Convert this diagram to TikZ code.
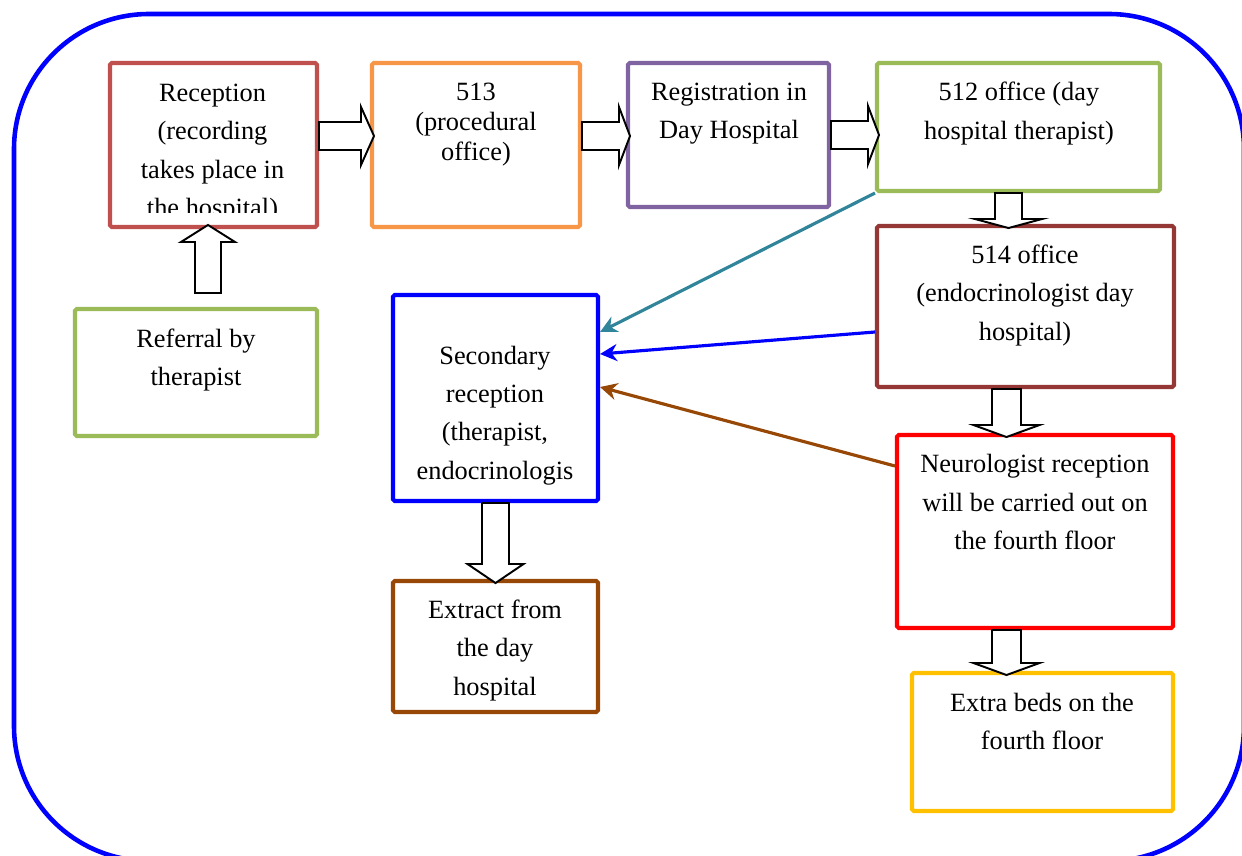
\documentclass[tikz,border=0pt]{standalone}
\usepackage{fontspec}
\setmainfont{Liberation Serif}
\usetikzlibrary{arrows.meta, calc}
\definecolor{recred}{RGB}{192,80,77}
\definecolor{proorange}{RGB}{247,150,70}
\definecolor{regpurple}{RGB}{128,100,162}
\definecolor{thergreen}{RGB}{155,187,89}
\definecolor{endobrown}{RGB}{149,55,53}
\definecolor{neurored}{RGB}{255,0,0}
\definecolor{bedsgold}{RGB}{255,192,0}
\definecolor{secblue}{RGB}{0,0,255}
\definecolor{extrbrown}{RGB}{151,72,6}
\definecolor{linkteal}{RGB}{49,133,155}

\tikzset{
  pics/fatarrow/.style n args={4}{code={
    \draw[fill=white, line width=1.1pt, line join=miter]
      (0,-#2) -- ({#1-#4},-#2) -- ({#1-#4},-#3) -- (#1,0)
      -- ({#1-#4},#3) -- ({#1-#4},#2) -- (0,#2) -- cycle;
  }}
}

\begin{document}
\begin{tikzpicture}[
    box/.style={rectangle, rounded corners=1pt, draw, line width=2.3pt, inner sep=0pt},
    txt/.style={align=center, inner sep=0pt, font=\fontsize{15}{21.8}\selectfont},
    link/.style={-{Stealth[length=0.34cm, width=0.34cm]}, line width=1.8pt}
]
\useasboundingbox (0,0) rectangle (24.84,-17.12);

% Outer frame
\draw[secblue, line width=2.6pt, rounded corners=2.7cm] (0.28,-0.28) rectangle (24.88,-17.22);

% Boxes
\node[box, draw=recred, minimum width=4.14cm, minimum height=3.28cm] (rec) at (4.27,-2.90) {};
\node[box, draw=proorange, minimum width=4.16cm, minimum height=3.28cm] (pro) at (9.52,-2.90) {};
\node[box, draw=regpurple, minimum width=4.02cm, minimum height=2.88cm] (reg) at (14.57,-2.70) {};
\node[box, draw=thergreen, minimum width=5.66cm, minimum height=2.56cm] (ther) at (20.37,-2.54) {};
\node[box, draw=endobrown, minimum width=5.94cm, minimum height=3.22cm] (endo) at (20.51,-6.13) {};
\node[box, draw=neurored, minimum width=5.52cm, minimum height=3.86cm] (neuro) at (20.70,-10.63) {};
\node[box, draw=bedsgold, minimum width=5.22cm, minimum height=2.76cm] (beds) at (20.85,-14.84) {};
\node[box, draw=thergreen, minimum width=4.84cm, minimum height=2.54cm] (refer) at (3.92,-7.45) {};
\node[box, draw=secblue, minimum width=4.10cm, minimum height=4.12cm] (sec) at (9.91,-7.96) {};
\node[box, draw=extrbrown, minimum width=4.10cm, minimum height=2.62cm] (extr) at (9.91,-12.93) {};

% Texts
\begin{scope}
  \clip (rec.north west) rectangle ([yshift=0.34cm]rec.south east);
  \node[txt] (rec-t) at (4.25,-3.06) {Reception\\(recording\\takes place in\\the hospital)};
\end{scope}
\node[txt, font=\fontsize{15}{17}\selectfont] (pro-t) at (9.52,-2.49) {513\\(procedural\\office)};
\node[txt] (reg-t) at (14.58,-2.27) {Registration in\\Day Hospital};
\node[txt] (ther-t) at (20.38,-2.27) {512 office (day\\hospital therapist)};
\node[txt] (endo-t) at (20.50,-5.91) {514 office\\(endocrinologist day\\hospital)};
\node[txt] (neuro-t) at (20.70,-10.04) {Neurologist reception\\will be carried out on\\the fourth floor};
\node[txt] (beds-t) at (20.84,-14.43) {Extra beds on the\\fourth floor};
\node[txt] (refer-t) at (3.92,-7.20) {Referral by\\therapist};
\node[txt] (sec-t) at (9.90,-8.31) {Secondary\\reception\\(therapist,\\endocrinologis};
\node[txt] (extr-t) at (9.90,-13.01) {Extract from\\the day\\hospital};

% Block arrows
\pic at ([yshift=0.18cm]rec.east) {fatarrow={1.1}{0.28}{0.58}{0.26}};
\pic at ([yshift=0.18cm]pro.east) {fatarrow={0.96}{0.28}{0.58}{0.22}};
\pic at (reg.east) {fatarrow={0.96}{0.28}{0.58}{0.22}};
\pic[rotate=-90] at ([xshift=-0.2cm]ther.south) {fatarrow={0.7}{0.27}{0.67}{0.18}};
\pic[rotate=-90] at ([xshift=-0.38cm]endo.south) {fatarrow={0.96}{0.29}{0.66}{0.24}};
\pic[rotate=-90] at ([xshift=-0.57cm]neuro.south) {fatarrow={0.9}{0.29}{0.66}{0.24}};
\pic[rotate=-90] at (sec.south) {fatarrow={1.6}{0.27}{0.56}{0.38}};
\pic[rotate=90] at ([xshift=0.24cm, yshift=0.28cm]refer.north) {fatarrow={1.36}{0.26}{0.54}{0.34}};

% Links to secondary reception
\draw[link, linkteal] (ther.south west) -- ([yshift=1.32cm]sec.east);
\draw[link, secblue] ([yshift=-0.51cm]endo.west) -- ([yshift=0.88cm]sec.east);
\draw[link, extrbrown] ([yshift=1.31cm]neuro.west) -- ([yshift=0.22cm]sec.east);
\end{tikzpicture}
\end{document}
